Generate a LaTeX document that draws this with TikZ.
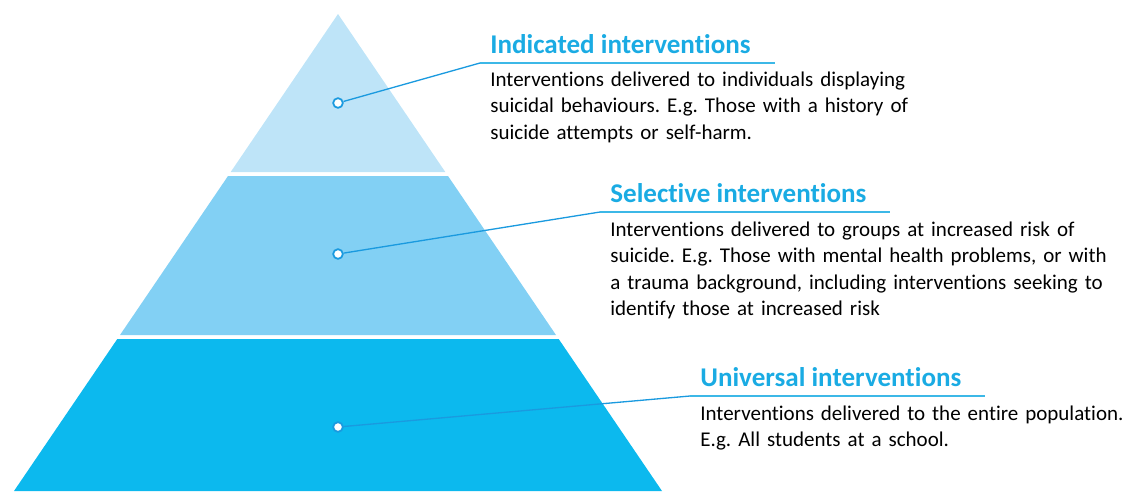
\documentclass[tikz,border=0pt]{standalone}
\usepackage{fontspec}
\setmainfont[Ligatures=NoCommon]{Carlito}
\usetikzlibrary{positioning}

\definecolor{tierA}{HTML}{BEE4F8}
\definecolor{tierB}{HTML}{82D0F4}
\definecolor{tierC}{HTML}{0CB9EE}
\definecolor{headcol}{HTML}{1AABE3}
\definecolor{leadcol}{HTML}{1A9ADF}

\tikzset{
  dot/.style={circle, draw=leadcol, fill=white, line width=1pt, inner sep=0pt, minimum size=5.5pt},
  leader/.style={leadcol, line width=0.75pt},
  underline/.style={headcol!85, line width=1.1pt},
  heading/.style={anchor=base west, inner sep=0pt, text=headcol, font=\fontsize{15.4}{17}\selectfont\bfseries},
  body/.style={anchor=base west, inner sep=0pt, text width=300pt, align=left, font=\fontsize{11.95}{15.1}\selectfont\frenchspacing}
}

\begin{document}
\begin{tikzpicture}[x=0.02cm, y=-0.02cm]
  \useasboundingbox (0,0) rectangle (1126,491);

  % the three tiers
  \fill[tierA] (338,14) -- (445.3,172) -- (230.7,172) -- cycle;
  \fill[tierB] (228,176) -- (448,176) -- (556,335) -- (120,335) -- cycle;
  \fill[tierC] (117.3,339) -- (558.7,339) -- (662,491) -- (14,491) -- cycle;

  % indicated
  \node[dot] (d1) at (338,103) {};
  \coordinate (k1) at (480,63);
  \coordinate (e1) at (775,63);
  \draw[leader] (d1) -- (k1);
  \draw[underline] (k1) -- (e1);
  \node[heading] (h1) at (490,53) {Indicated interventions};
  \node[body] (t1) at (490,86) {Interventions delivered to individuals displaying\\
    suicidal behaviours. E.g. Those with a history of\\
    suicide attempts or self-harm.};

  % selective
  \node[dot] (d2) at (338,254) {};
  \coordinate (k2) at (600,212);
  \coordinate (e2) at (890,212);
  \draw[leader] (d2) -- (k2);
  \draw[underline] (k2) -- (e2);
  \node[heading] (h2) at (610,202) {Selective interventions};
  \node[body] (t2) at (610,236) {Interventions delivered to groups at increased risk of\\
    suicide. E.g. Those with mental health problems, or with\\
    a trauma background, including interventions seeking to\\
    identify those at increased risk};

  % universal
  \node[dot] (d3) at (338,427) {};
  \coordinate (k3) at (690,396);
  \coordinate (e3) at (985,396);
  \draw[leader] (d3) -- (k3);
  \draw[underline] (k3) -- (e3);
  \node[heading] (h3) at (700,386) {Universal interventions};
  \node[body] (t3) at (700,420) {Interventions delivered to the entire population.\\
    E.g. All students at a school.};
\end{tikzpicture}
\end{document}
